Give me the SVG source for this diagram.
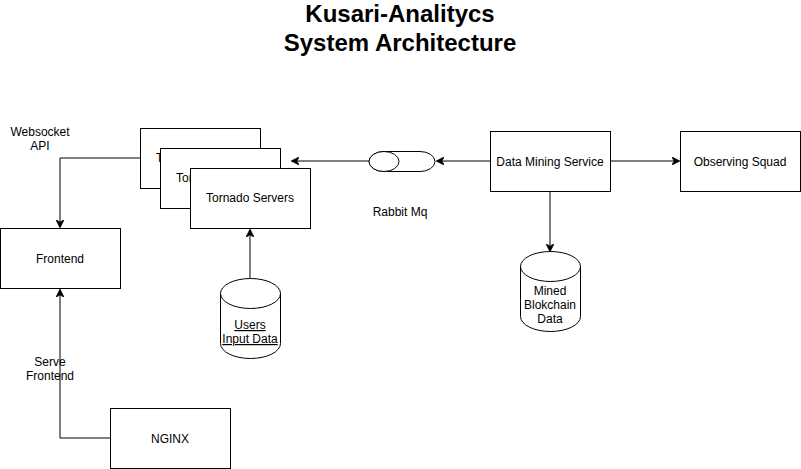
<svg xmlns="http://www.w3.org/2000/svg" width="801" height="469" viewBox="0 0 801 469">
<style>
text{font-family:"Liberation Sans",Arial,sans-serif;font-size:12px;fill:#000;text-anchor:middle}
.box{fill:#fff;stroke:#000;stroke-width:1}
.ln{fill:none;stroke:#000;stroke-width:1}
.title{font-size:24px;font-weight:bold}
</style>
<defs>
<marker id="arr" viewBox="0 0 10 10" refX="9" refY="5" markerWidth="8" markerHeight="8" markerUnits="userSpaceOnUse" orient="auto">
<path d="M0,0 L10,5 L0,10 L3,5 Z" fill="#000" stroke="#000" stroke-width="1"/>
</marker>
</defs>
<rect width="801" height="469" fill="#fff"/>
<g id="title">
<text class="title" x="400" y="22">Kusari-Analitycs</text>
<text class="title" x="400" y="51">System Architecture</text>
</g>
<g id="connectors">
<path class="ln" d="M140,158 H60 V227" marker-end="url(#arr)"/>
<path class="ln" d="M110,438 H60 V290" marker-end="url(#arr)"/>
<path class="ln" d="M250,278 V230" marker-end="url(#arr)"/>
<path class="ln" d="M369,161 H292" marker-end="url(#arr)"/>
<path class="ln" d="M490,161 H437" marker-end="url(#arr)"/>
<path class="ln" d="M610,161 H679" marker-end="url(#arr)"/>
<path class="ln" d="M550,191 V251" marker-end="url(#arr)"/>
</g>
<g id="labels">
<text x="40" y="136">Websocket</text>
<text x="40" y="150">API</text>
<text x="50" y="366">Serve</text>
<text x="50" y="380">Frontend</text>
<text x="400" y="216">Rabbit Mq</text>
</g>
<g id="tornado1">
<rect class="box" x="140.5" y="128.5" width="120" height="60"/>
<text x="200" y="162">Tornado Servers</text>
</g>
<g id="tornado2">
<rect class="box" x="160.5" y="148.5" width="120" height="60"/>
<text x="220" y="182">Tornado Servers</text>
</g>
<g id="tornado3">
<rect class="box" x="190.5" y="168.5" width="120" height="60"/>
<text x="250" y="202">Tornado Servers</text>
</g>
<g id="frontend">
<rect class="box" x="0.5" y="228.5" width="120" height="60"/>
<text x="60" y="263">Frontend</text>
</g>
<g id="nginx">
<rect class="box" x="110.5" y="408.5" width="120" height="60"/>
<text x="170" y="443">NGINX</text>
</g>
<g id="datamining">
<rect class="box" x="490.5" y="131.5" width="120" height="60"/>
<text x="550" y="166">Data Mining Service</text>
</g>
<g id="observing">
<rect class="box" x="680.5" y="131.5" width="120" height="60"/>
<text x="740" y="166">Observing Squad</text>
</g>
<g id="rabbitmq">
<path class="box" d="M384,151.5 H420 A15,10 0 0 1 420,171.5 H384 A15,10 0 0 1 384,151.5 Z"/>
<ellipse class="box" cx="384" cy="161.5" rx="15" ry="10"/>
</g>
<g id="usersdata">
<path class="box" d="M220.5,293.5 A30,15 0 0 1 280.5,293.5 V343.5 A30,15 0 0 1 220.5,343.5 Z"/>
<path class="ln" d="M220.5,293.5 A30,15 0 0 0 280.5,293.5"/>
<text x="250" y="329" text-decoration="underline">Users</text>
<text x="250" y="343" text-decoration="underline">Input Data</text>
</g>
<g id="mineddata">
<path class="box" d="M520.5,266.5 A30,15 0 0 1 580.5,266.5 V316.5 A30,15 0 0 1 520.5,316.5 Z"/>
<path class="ln" d="M520.5,266.5 A30,15 0 0 0 580.5,266.5"/>
<text x="550" y="295">Mined</text>
<text x="550" y="309">Blokchain</text>
<text x="550" y="323">Data</text>
</g>
</svg>
